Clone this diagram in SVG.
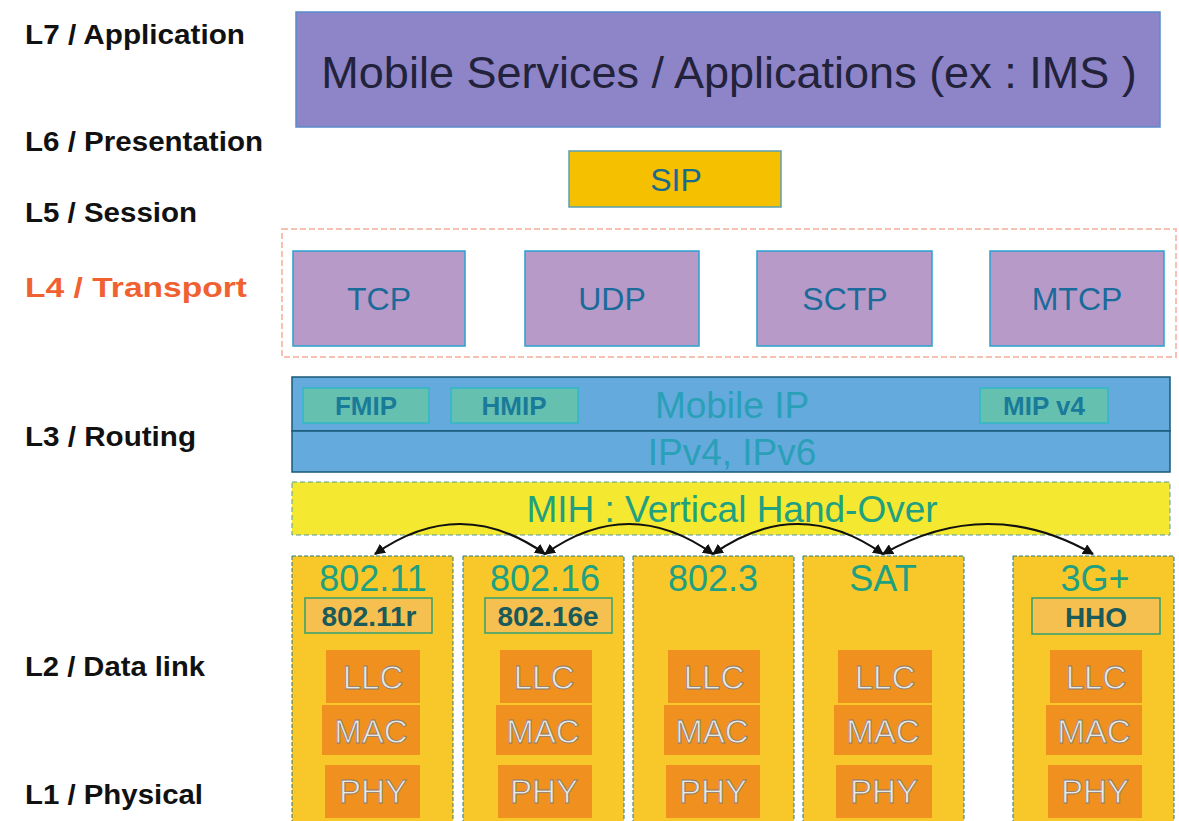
<svg xmlns="http://www.w3.org/2000/svg" width="1179" height="821" viewBox="0 0 1179 821">
<defs>
<style>
.lbl{font-family:"Liberation Sans",Arial,sans-serif;font-weight:bold;font-size:27px;fill:#111}
.t{font-family:"Liberation Sans",Arial,sans-serif;text-anchor:middle}
.proto{fill:#b89ac8;stroke:#2aa0d0;stroke-width:1.5}
.protot{font-size:32px;fill:#1a6a9a}
.mip{fill:#66c0b0;stroke:#30b8c8;stroke-width:1.5}
.mipt{font-size:26px;fill:#1a7a9a;font-weight:bold}
.col{fill:#f8c82a;stroke:#2a7a7a;stroke-width:1;stroke-dasharray:4 2}
.colt{font-size:36px;fill:#20a080}
.sub{fill:#f5c050;stroke:#30a070;stroke-width:1.5}
.subt{font-size:28px;fill:#1a5a5a;font-weight:bold}
.ora{fill:#f0901e}
.orat{font-size:33px;fill:#e8e8e0;stroke:#8a7a70;stroke-width:0.8}
.arc{fill:none;stroke:#111;stroke-width:2.2}
</style>
<marker id="ah" viewBox="0 0 10 10" refX="9" refY="5" markerWidth="5" markerHeight="5" orient="auto-start-reverse">
<path d="M0,0 L10,5 L0,10 z" fill="#111"/>
</marker>
</defs>
<rect width="1179" height="821" fill="#fff"/>

<g id="layer-labels">
<text class="lbl" x="25" y="44" textLength="220" lengthAdjust="spacingAndGlyphs">L7 / Application</text>
<text class="lbl" x="25" y="151" textLength="238" lengthAdjust="spacingAndGlyphs">L6 / Presentation</text>
<text class="lbl" x="25" y="222" textLength="172" lengthAdjust="spacingAndGlyphs">L5 / Session</text>
<text class="lbl" x="25" y="297" textLength="222" lengthAdjust="spacingAndGlyphs" style="fill:#f06030">L4 / Transport</text>
<text class="lbl" x="25" y="446" textLength="171" lengthAdjust="spacingAndGlyphs">L3 / Routing</text>
<text class="lbl" x="25" y="676" textLength="180" lengthAdjust="spacingAndGlyphs">L2 / Data link</text>
<text class="lbl" x="25" y="804" textLength="178" lengthAdjust="spacingAndGlyphs">L1 / Physical</text>
</g>

<g id="app">
<rect x="296" y="12" width="864" height="115" fill="#8e84c8" stroke="#5a8acb" stroke-width="1.5"/>
<text class="t" x="729" y="88" font-size="45" fill="#22223a">Mobile Services / Applications (ex : IMS )</text>
</g>

<g id="sip">
<rect x="569" y="151" width="212" height="56" fill="#f5c000" stroke="#5aa0b0" stroke-width="1.5"/>
<text class="t" x="676" y="191" font-size="32" fill="#1a6a8a">SIP</text>
</g>

<g id="transport">
<rect x="282" y="229" width="894" height="128" fill="none" stroke="#f8c0b0" stroke-width="2" stroke-dasharray="6 3"/>
</g>
<g id="tcp"><rect class="proto" x="293" y="251" width="172" height="95"/><text class="t protot" x="379" y="310">TCP</text></g>
<g id="udp"><rect class="proto" x="525" y="251" width="174" height="95"/><text class="t protot" x="612" y="310">UDP</text></g>
<g id="sctp"><rect class="proto" x="757" y="251" width="175" height="95"/><text class="t protot" x="845" y="310">SCTP</text></g>
<g id="mtcp"><rect class="proto" x="990" y="251" width="174" height="95"/><text class="t protot" x="1077" y="310">MTCP</text></g>

<g id="mobile-ip">
<rect x="292" y="377" width="878" height="54" fill="#64aadc" stroke="#1a5a7a" stroke-width="1.5"/>
<text class="t" x="732" y="418" font-size="37" fill="#2aa0b8">Mobile IP</text>
</g>
<g id="fmip"><rect class="mip" x="303" y="388" width="126" height="35"/><text class="t mipt" x="366" y="415">FMIP</text></g>
<g id="hmip"><rect class="mip" x="451" y="388" width="127" height="35"/><text class="t mipt" x="514" y="415">HMIP</text></g>
<g id="mipv4"><rect class="mip" x="980" y="388" width="128" height="35"/><text class="t mipt" x="1044" y="415">MIP v4</text></g>

<g id="ip">
<rect x="292" y="431" width="878" height="41" fill="#64aadc" stroke="#1a5a7a" stroke-width="1.5"/>
<text class="t" x="732" y="465" font-size="37" fill="#2aa0b8">IPv4, IPv6</text>
</g>

<g id="mih">
<rect x="292" y="482" width="878" height="53" fill="#f5e830" stroke="#5a9a9a" stroke-width="1" stroke-dasharray="5 3"/>
<text class="t" x="732" y="522" font-size="37" fill="#20a080">MIH : Vertical Hand-Over</text>
</g>

<g id="col-80211">
<rect class="col" x="292" y="556" width="161" height="270"/>
<text class="t colt" x="373" y="591">802.11</text>
<rect class="sub" x="305" y="598" width="127" height="35"/>
<text class="t subt" x="369" y="626">802.11r</text>
<rect class="ora" x="326" y="650" width="94" height="53"/><text class="t orat" x="373" y="689">LLC</text>
<rect class="ora" x="322" y="705" width="98" height="50"/><text class="t orat" x="371" y="743">MAC</text>
<rect class="ora" x="325" y="765" width="95" height="53"/><text class="t orat" x="373" y="803">PHY</text>
</g>

<g id="col-80216">
<rect class="col" x="463" y="556" width="161" height="270"/>
<text class="t colt" x="545" y="591">802.16</text>
<rect class="sub" x="485" y="598" width="127" height="35"/>
<text class="t subt" x="548" y="626">802.16e</text>
<rect class="ora" x="500" y="650" width="92" height="53"/><text class="t orat" x="544" y="689">LLC</text>
<rect class="ora" x="496" y="705" width="96" height="50"/><text class="t orat" x="543" y="743">MAC</text>
<rect class="ora" x="498" y="765" width="94" height="53"/><text class="t orat" x="544" y="803">PHY</text>
</g>

<g id="col-8023">
<rect class="col" x="633" y="556" width="161" height="270"/>
<text class="t colt" x="713" y="591">802.3</text>
<rect class="ora" x="668" y="650" width="92" height="53"/><text class="t orat" x="714" y="689">LLC</text>
<rect class="ora" x="664" y="705" width="96" height="50"/><text class="t orat" x="712" y="743">MAC</text>
<rect class="ora" x="666" y="765" width="94" height="53"/><text class="t orat" x="713" y="803">PHY</text>
</g>

<g id="col-sat">
<rect class="col" x="803" y="556" width="161" height="270"/>
<text class="t colt" x="883" y="591">SAT</text>
<rect class="ora" x="838" y="650" width="94" height="53"/><text class="t orat" x="885" y="689">LLC</text>
<rect class="ora" x="834" y="705" width="98" height="50"/><text class="t orat" x="883" y="743">MAC</text>
<rect class="ora" x="836" y="765" width="96" height="53"/><text class="t orat" x="884" y="803">PHY</text>
</g>

<g id="col-3g">
<rect class="col" x="1013" y="556" width="161" height="270"/>
<text class="t colt" x="1095" y="591">3G+</text>
<rect class="sub" x="1032" y="598" width="128" height="36"/>
<text class="t subt" x="1096" y="627">HHO</text>
<rect class="ora" x="1050" y="650" width="92" height="53"/><text class="t orat" x="1096" y="689">LLC</text>
<rect class="ora" x="1046" y="705" width="96" height="50"/><text class="t orat" x="1094" y="743">MAC</text>
<rect class="ora" x="1048" y="765" width="94" height="53"/><text class="t orat" x="1095" y="803">PHY</text>
</g>

<g id="connectors">
<path class="arc" d="M545,554 Q460,494 375,554" marker-start="url(#ah)" marker-end="url(#ah)"/>
<path class="arc" d="M545,554 Q629,494 713,554" marker-start="url(#ah)" marker-end="url(#ah)"/>
<path class="arc" d="M713,554 Q798,494 883,554" marker-start="url(#ah)" marker-end="url(#ah)"/>
<path class="arc" d="M883,554 Q988,494 1093,554" marker-start="url(#ah)" marker-end="url(#ah)"/>
</g>
</svg>
